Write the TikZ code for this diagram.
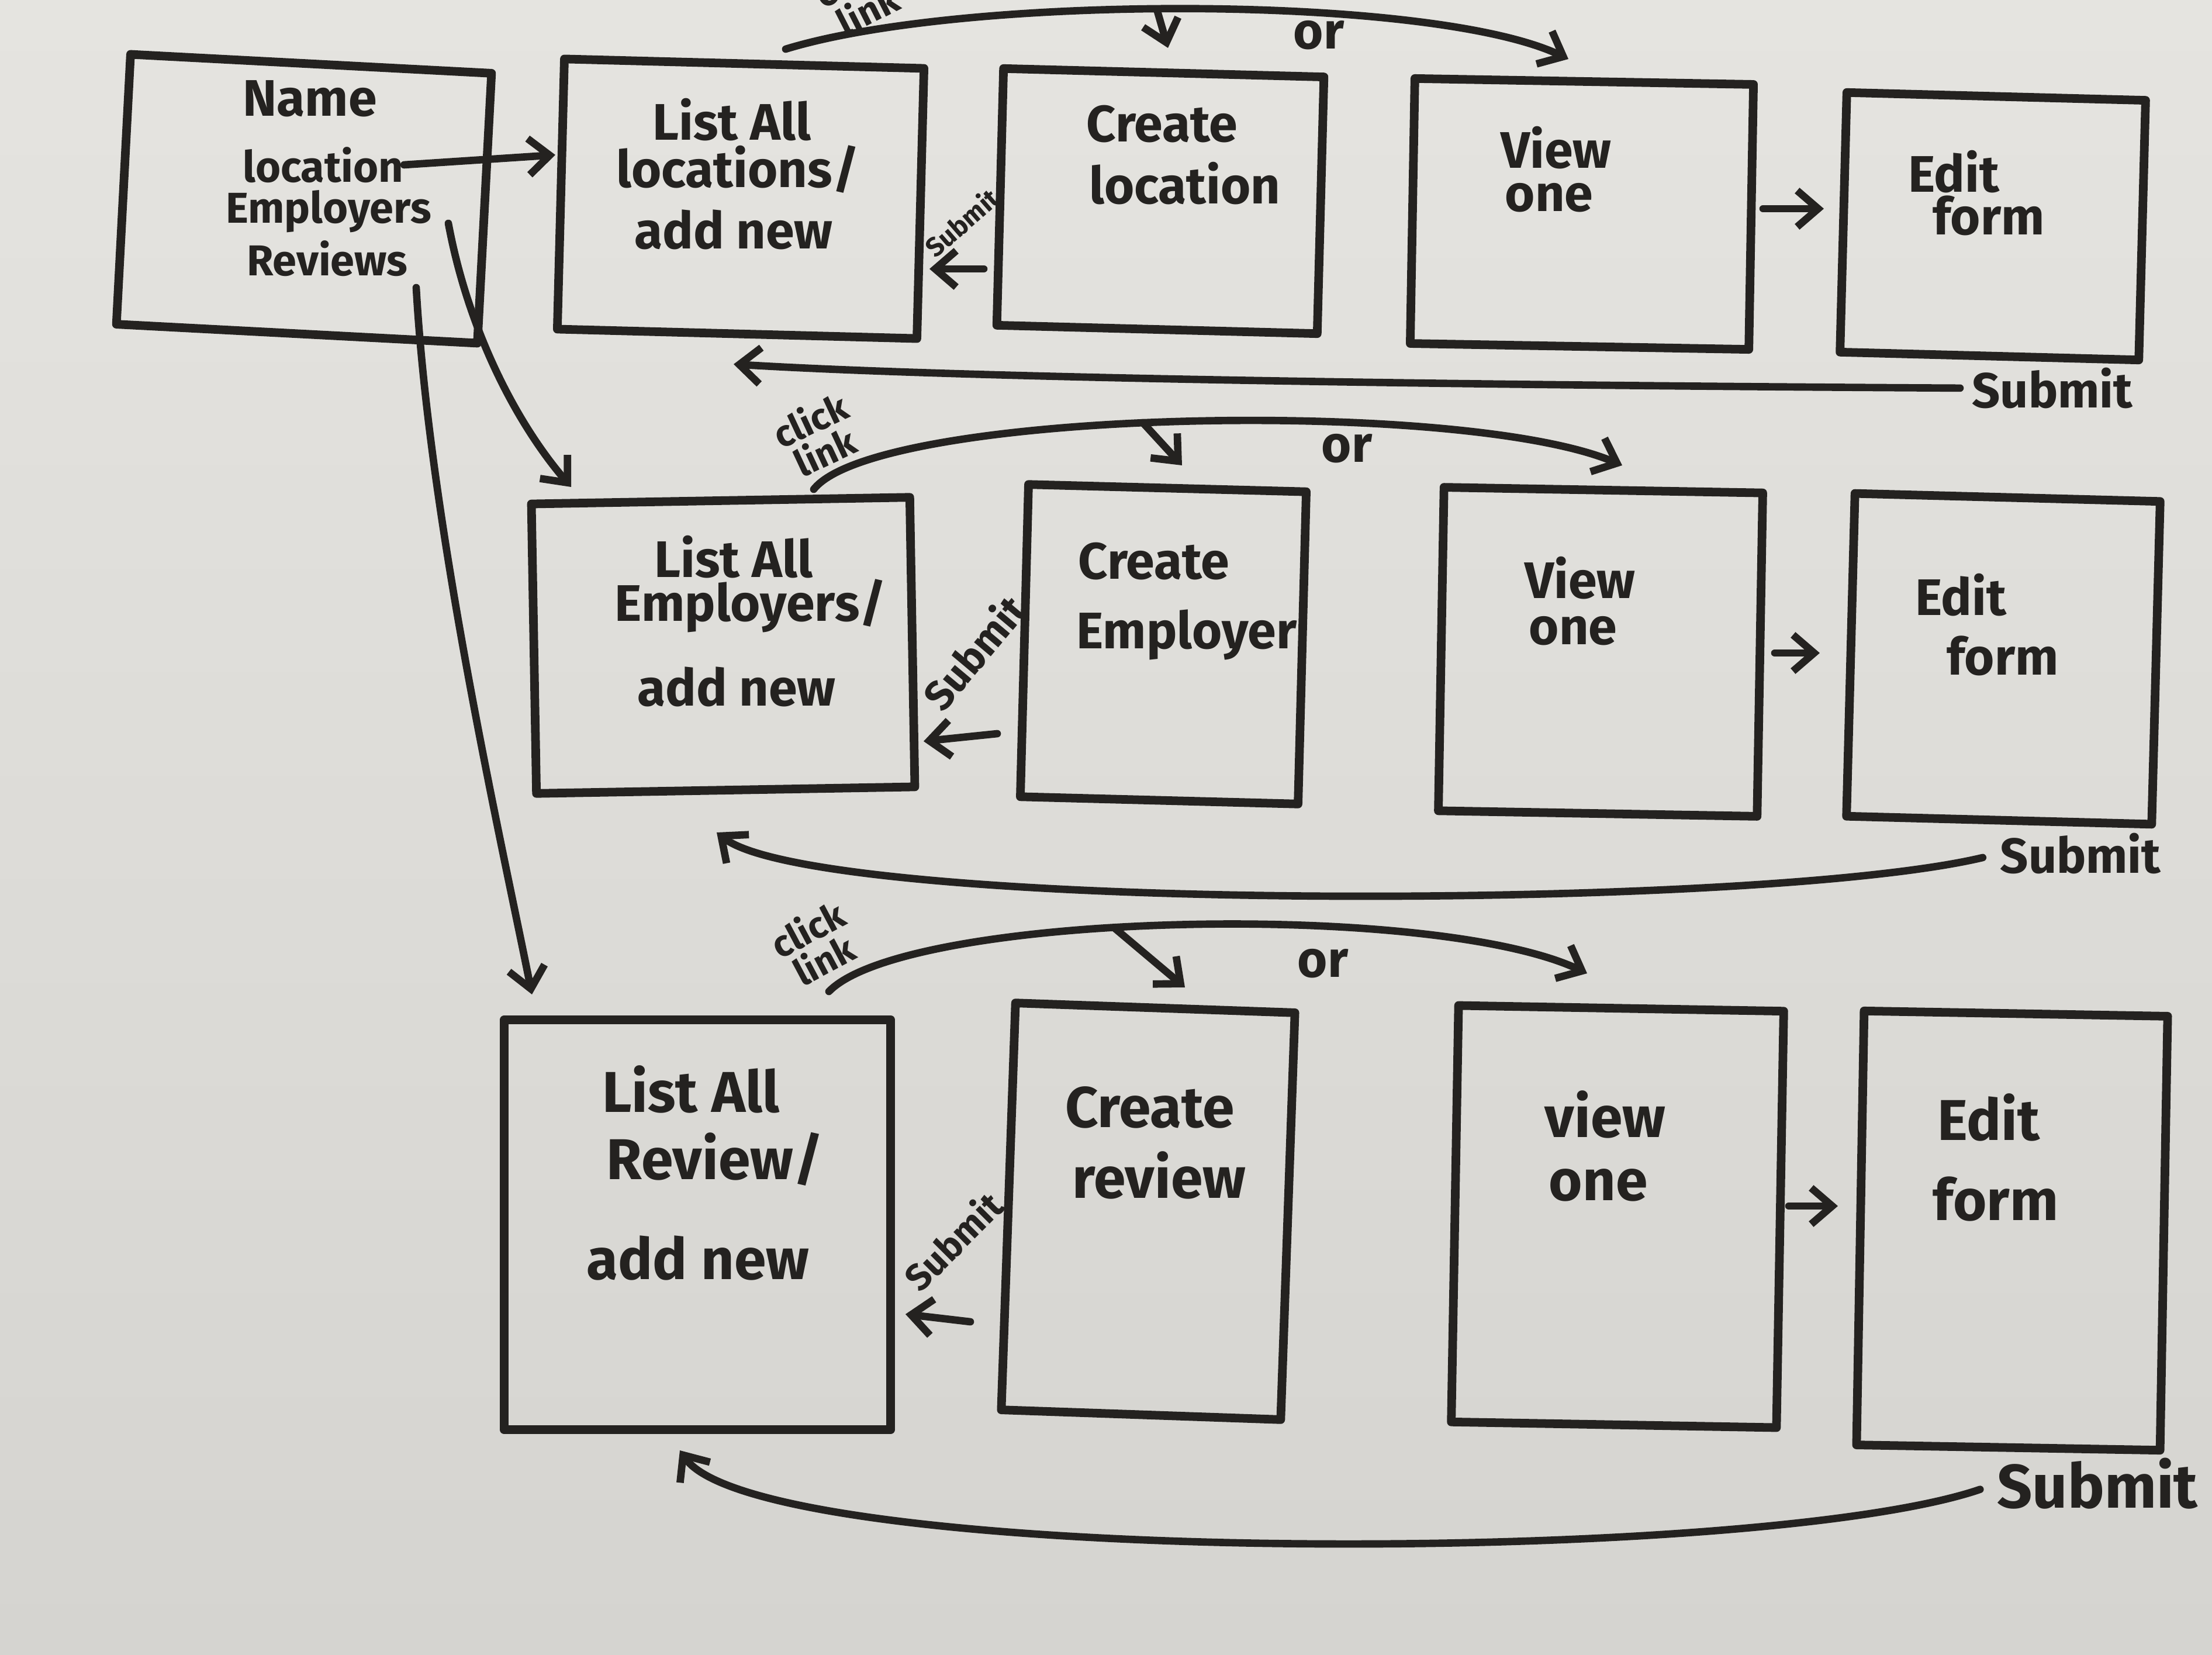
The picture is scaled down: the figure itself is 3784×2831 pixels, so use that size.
\documentclass[tikz,border=0pt]{standalone}
\usepackage{fontspec}
\setmainfont{Fira Sans}
\usetikzlibrary{arrows.meta,calc}
\definecolor{inkc}{RGB}{36,34,32}
\definecolor{bgtop}{RGB}{229,228,224}
\definecolor{bgbot}{RGB}{213,212,208}
\begin{document}
\begin{tikzpicture}[x=0.01cm,y=-0.01cm,
  ink/.style={draw=inkc, line width=3.6pt, line cap=round, line join=round},
  box/.style={draw=inkc, line width=4.2pt, rectangle, inner sep=0pt, line join=round},
  conn/.style={ink, -{Straight Barb[length=0.36cm,width=0.62cm,line width=3.6pt]}},
  txt/.style={text=inkc, inner sep=0pt, font=\fontsize{25}{28}\selectfont\bfseries},
  hometxt/.style={text=inkc, inner sep=0pt, font=\fontsize{21}{24}\selectfont\bfseries},
  big/.style={text=inkc, inner sep=0pt, font=\fontsize{28}{32}\selectfont\bfseries},
  small/.style={text=inkc, inner sep=0pt, font=\fontsize{18}{17}\selectfont\bfseries, align=center}
]
\useasboundingbox (0,0) rectangle (3784,2831);
\shade[top color=bgtop,bottom color=bgbot] (0,0) rectangle (3784,2831);

% ---------- boxes ----------
\node[box,minimum width=6.18cm,minimum height=4.62cm,rotate=-3]   (home) at (520,340) {};
\node[box,minimum width=6.15cm,minimum height=4.62cm,rotate=-1.5] (L1) at (1267,340) {};
\node[box,minimum width=5.48cm,minimum height=4.39cm,rotate=-1.5] (C1) at (1985,344) {};
\node[box,minimum width=5.79cm,minimum height=4.53cm,rotate=-1]   (V1) at (2706,366) {};
\node[box,minimum width=5.11cm,minimum height=4.44cm,rotate=-1.5] (E1) at (3409,387) {};

\node[box,minimum width=6.47cm,minimum height=4.95cm,rotate=1]    (L2) at (1237,1104) {};
\node[box,minimum width=4.75cm,minimum height=5.34cm,rotate=-1.5] (C2) at (1990,1102) {};
\node[box,minimum width=5.45cm,minimum height=5.53cm,rotate=-1]   (V2) at (2738,1115) {};
\node[box,minimum width=5.22cm,minimum height=5.52cm,rotate=-1.5] (E2) at (3427,1127) {};

\node[box,minimum width=6.61cm,minimum height=7.01cm]             (L3) at (1193,2095) {};
\node[box,minimum width=4.78cm,minimum height=6.96cm,rotate=-2]   (C3) at (1964,2072) {};
\node[box,minimum width=5.56cm,minimum height=7.12cm,rotate=-1]   (V3) at (2767,2081) {};
\node[box,minimum width=5.19cm,minimum height=7.42cm,rotate=-1]   (E3) at (3442,2105) {};

% ---------- texts ----------
\node[txt]     (t-name) at (530,169) {Name};
\node[hometxt] (t-loc)  at (553,282) {location};
\node[hometxt] (t-emp)  at (562,362) {Employers};
\node[hometxt] (t-rev)  at (560,442) {Reviews};

\node[txt] (t-l1a) at (1252,205) {List All};
\node[txt] (t-l1b) at (1262,290) {locations/};
\node[txt] (t-l1c) at (1255,393) {add new};
\node[txt] (t-c1a) at (1988,212) {Create};
\node[txt] (t-c1b) at (2027,314) {location};
\node[txt] (t-v1a) at (2662,253) {View};
\node[txt] (t-v1b) at (2650,338) {one};
\node[txt] (t-e1a) at (3342,294) {Edit};
\node[txt] (t-e1b) at (3402,369) {form};

\node[txt] (t-l2a) at (1255,953) {List All};
\node[txt] (t-l2b) at (1284,1036) {Employers/};
\node[txt] (t-l2c) at (1260,1175) {add new};
\node[txt] (t-c2a) at (1974,960) {Create};
\node[txt] (t-c2b) at (2030,1086) {Employer};
\node[txt] (t-v2a) at (2703,989) {View};
\node[txt] (t-v2b) at (2691,1079) {one};
\node[txt] (t-e2a) at (3354,1018) {Edit};
\node[txt] (t-e2b) at (3426,1122) {form};

\node[big] (t-l3a) at (1182,1863) {List All};
\node[big] (t-l3b) at (1223,1983) {Review/};
\node[big] (t-l3c) at (1194,2152) {add new};
\node[big] (t-c3a) at (1967,1894) {Create};
\node[big] (t-c3b) at (1983,2010) {review};
\node[big] (t-v3a) at (2746,1906) {view};
\node[big] (t-v3b) at (2734,2027) {one};
\node[big] (t-e3a) at (3402,1911) {Edit};
\node[big] (t-e3b) at (3414,2051) {form};

% ---------- from the home page ----------
\coordinate (a1) at (950,265);
\coordinate (h2) at (767,382);
\coordinate (a2) at (977,833);
\coordinate (h3) at (712,492);
\coordinate (a3) at (910,1701);
\draw[conn] (t-loc.east) -- (a1);
\draw[conn] (h2) .. controls (800,560) and (880,720) .. (a2);
\draw[conn] (h3) .. controls (735,900) and (860,1450) .. (a3);

% ---------- row 1 ----------
\node[small,rotate=27] (cl1) at (1470,-10) {click\\link};
\coordinate (r1s) at (1344,84);
\coordinate (r1e) at (2683,101);
\draw[conn] (r1s) .. controls (1650,-10) and (2450,-10) .. (r1e);
\coordinate (b1s) at (1979,16);
\coordinate (b1e) at (1998,82);
\draw[conn] (b1s) -- (b1e);
\node[txt] (or1) at (2256,60) {or};

\node[text=inkc,inner sep=0pt,font=\fontsize{13}{14}\selectfont\bfseries,rotate=41] (sub1) at (1645,380) {Submit};
\coordinate (s1a) at (1683,460);
\coordinate (s1b) at (1590,460);
\draw[conn] (s1a) -- (s1b);

\coordinate (v1a) at (3016,357);
\coordinate (e1a) at (3120,357);
\draw[conn] (v1a) -- (e1a);

\node[text=inkc,inner sep=0pt,font=\fontsize{24}{26}\selectfont\bfseries] (bs1) at (3511,664) {Submit};
\coordinate (ret1) at (1255,623);
\draw[conn, shorten <=0.2cm] (bs1.west) .. controls (2700,660) and (1700,650) .. (ret1);

% ---------- row 2 ----------
\node[small,rotate=25] (cl2) at (1398,745) {click\\link};
\coordinate (r2s) at (1392,837);
\coordinate (r2e) at (2775,796);
\draw[conn] (r2s) .. controls (1500,700) and (2500,680) .. (r2e);
\coordinate (b2s) at (1955,723);
\coordinate (b2e) at (2022,796);
\draw[conn] (b2s) -- (b2e);
\node[txt] (or2) at (2304,767) {or};

\node[text=inkc,inner sep=0pt,font=\fontsize{20}{22}\selectfont\bfseries,rotate=50] (sub2) at (1666,1115) {Submit};
\coordinate (s2a) at (1706,1255);
\coordinate (s2b) at (1580,1268);
\draw[conn] (s2a) -- (s2b);

\coordinate (v2a) at (3036,1117);
\coordinate (e2a) at (3113,1117);
\draw[conn] (v2a) -- (e2a);

\node[text=inkc,inner sep=0pt,font=\fontsize{24}{26}\selectfont\bfseries] (bs2) at (3559,1460) {Submit};
\coordinate (ret2) at (1226,1424);
\draw[conn, shorten <=0.3cm] (bs2.west) .. controls (3000,1560) and (1400,1560) .. (ret2);

% ---------- row 3 ----------
\node[small,rotate=28] (cl3) at (1395,1615) {click\\link};
\coordinate (r3s) at (1418,1696);
\coordinate (r3e) at (2715,1665);
\draw[conn] (r3s) .. controls (1550,1560) and (2450,1540) .. (r3e);
\coordinate (b3s) at (1906,1587);
\coordinate (b3e) at (2027,1689);
\draw[conn] (b3s) -- (b3e);
\node[txt] (or3) at (2263,1648) {or};

\node[text=inkc,inner sep=0pt,font=\fontsize{18}{20}\selectfont\bfseries,rotate=45] (sub3) at (1630,2122) {Submit};
\coordinate (s3a) at (1660,2261);
\coordinate (s3b) at (1549,2248);
\draw[conn] (s3a) -- (s3b);

\coordinate (v3a) at (3060,2063);
\coordinate (e3a) at (3144,2063);
\draw[conn] (v3a) -- (e3a);

\node[text=inkc,inner sep=0pt,font=\fontsize{30}{32}\selectfont\bfseries] (bs3) at (3588,2538) {Submit};
\coordinate (ret3) at (1163,2481);
\draw[conn, shorten <=0.3cm] (bs3.west) .. controls (3000,2680) and (1300,2680) .. (ret3);
\end{tikzpicture}
\end{document}
